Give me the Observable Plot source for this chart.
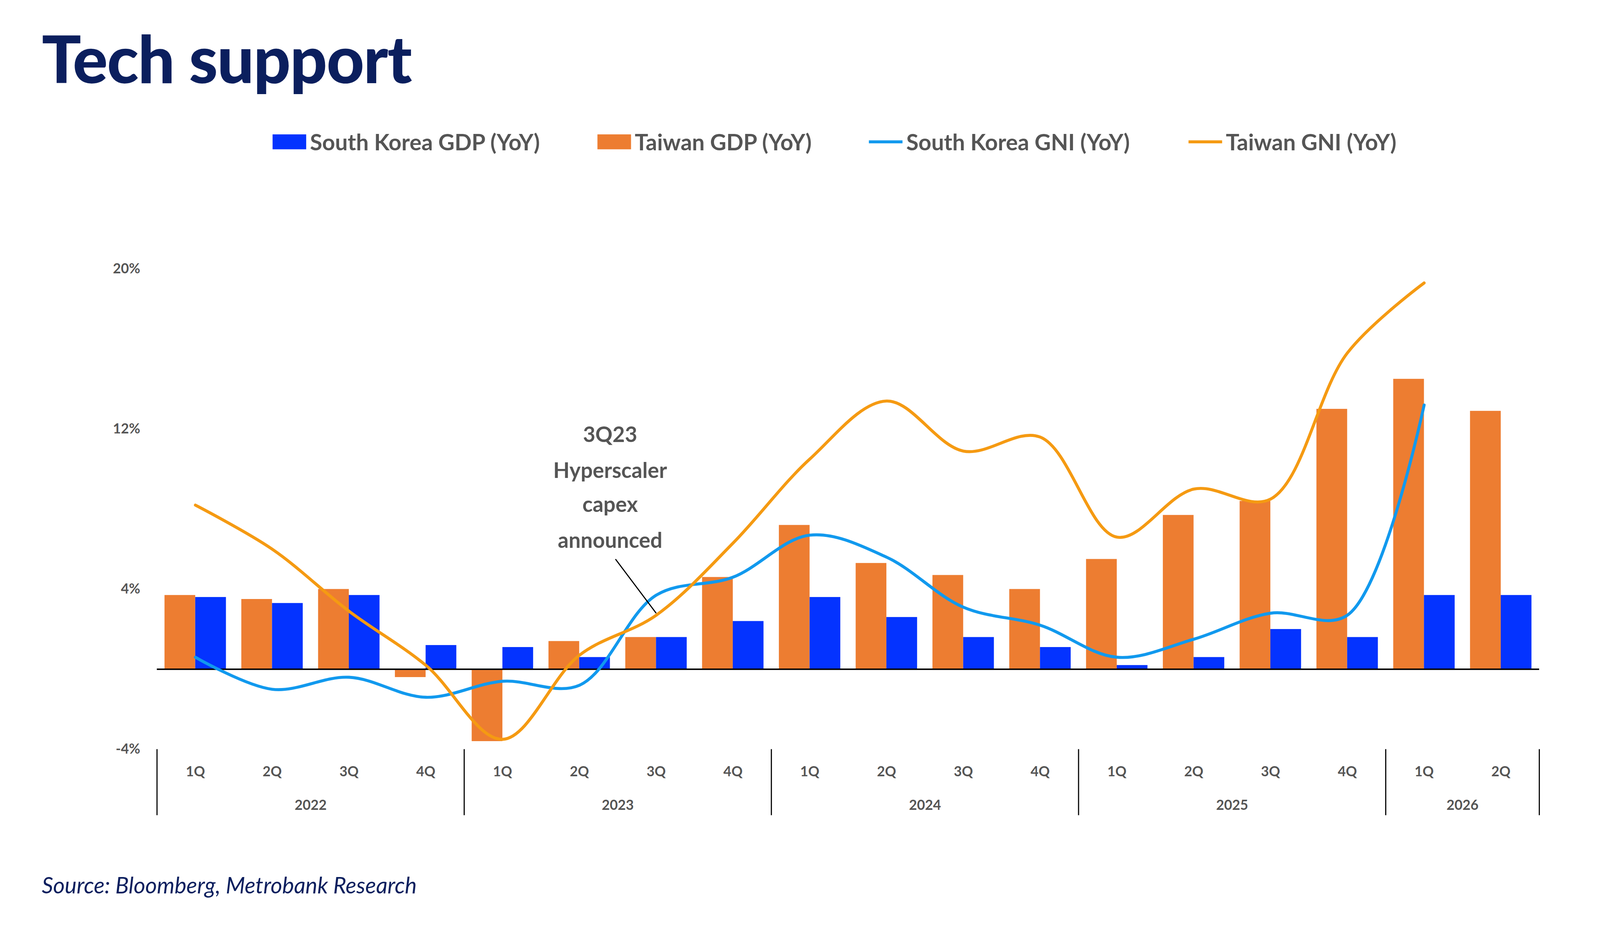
<!DOCTYPE html>
<html><head><meta charset="utf-8">
<script src="https://cdn.jsdelivr.net/npm/d3@7"></script>
<script src="https://cdn.jsdelivr.net/npm/@observablehq/plot@0.6"></script>
<style>
html,body{margin:0;padding:0;background:#fff;overflow:hidden}
#page{width:4285px;height:2438px;position:absolute;left:0;top:0;transform-origin:0 0;font-family:Lato,"Noto Sans",sans-serif}
#title{position:absolute;left:112px;top:50px;font-size:175px;font-weight:900;color:#0b1f5e;letter-spacing:-2px}
#legend{position:absolute;top:340px;left:0;width:4285px;height:80px}
.li{position:absolute;top:0;display:flex;align-items:center;font-size:60px;font-weight:700;color:#555;height:80px}
.sw{display:inline-block;margin-right:10px}
#src{position:absolute;left:112px;top:2335px;font-size:60px;font-style:italic;color:#0b1f5e}
#chart{position:absolute;left:0;top:0;width:4285px;height:2438px}
#chart svg{max-width:none!important}
</style></head><body>
<div id="page">
<div id="chart"></div>
<div id="title">Tech support</div>
<div id="legend"></div>
<div id="src">Source: Bloomberg, Metrobank Research</div>
</div>
<script>
const quarters=["1Q","2Q","3Q","4Q","1Q","2Q","3Q","4Q","1Q","2Q","3Q","4Q","1Q","2Q","3Q","4Q","1Q","2Q"];
const years=["2022","2023","2024","2025","2026"];
const yearCenters=[1.5,5.5,9.5,13.5,16.5];
const twGDP=[3.7,3.5,4.0,-0.4,-3.6,1.4,1.6,4.6,7.2,5.3,4.7,4.0,5.5,7.7,8.4,13.0,14.5,12.9];
const krGDP=[3.6,3.3,3.7,1.2,1.1,0.6,1.6,2.4,3.6,2.6,1.6,1.1,0.2,0.6,2.0,1.6,3.7,3.7];
const krGNI=[0.6,-1.0,-0.4,-1.4,-0.6,-0.8,3.7,4.6,6.7,5.6,3.1,2.2,0.6,1.5,2.8,2.7,13.2];
const twGNI=[8.2,6.0,2.9,0.2,-3.5,0.7,2.7,6.3,10.5,13.4,10.9,11.6,6.6,9.0,8.5,15.8,19.3];
const yTicks=[20,12,4,-4];
const separators=[-0.5,3.5,7.5,11.5,15.5,17.5];
const note=["3Q23","Hyperscaler","capex","announced"];
const noteY=[11.7,9.9,8.2,6.4];

const BLUE="#0433ff",ORANGE="#ed7d31",LBLUE="#1199ee",LORANGE="#f59a12";
const idx=d3.range(quarters.length);
const plot=Plot.plot({
  width:4285,height:2438,marginLeft:420,marginRight:163,marginTop:720,marginBottom:431,
  x:{domain:[-0.5,17.5],axis:null},
  y:{domain:[-4,20],axis:null},
  style:{fontFamily:"Lato, 'Noto Sans', sans-serif",overflow:"visible"},
  marks:[
    Plot.rectY(idx,{x1:i=>i-0.4,x2:i=>i,y1:0,y2:i=>twGDP[i],fill:ORANGE}),
    Plot.rectY(idx,{x1:i=>i,x2:i=>i+0.4,y1:0,y2:i=>krGDP[i],fill:BLUE}),
    Plot.ruleY([0],{x1:-0.5,x2:17.5,stroke:"#000",strokeWidth:4}),
    Plot.line(krGNI.map((v,i)=>({i,v})),{x:"i",y:"v",stroke:LBLUE,strokeWidth:8,curve:"catmull-rom"}),
    Plot.line(twGNI.map((v,i)=>({i,v})),{x:"i",y:"v",stroke:LORANGE,strokeWidth:8,curve:"catmull-rom"}),
    Plot.text(yTicks,{x:-0.5,y:d=>d,text:d=>d+"%",dx:-45,textAnchor:"end",fontSize:37,fontWeight:700,fill:"#555"}),
    Plot.ruleX(separators,{y1:-4,y2:-7.3,stroke:"#000",strokeWidth:3}),
    Plot.text(idx,{x:i=>i,y:-5.13,text:i=>quarters[i],fontSize:37,fontWeight:700,fill:"#555"}),
    Plot.text(years,{x:(d,i)=>yearCenters[i],y:-6.8,text:d=>d,fontSize:37,fontWeight:700,fill:"#555"}),
    Plot.text(note,{x:5.4,y:(d,i)=>noteY[i],text:d=>d,fontSize:57,fontWeight:700,fill:"#555"}),
    Plot.link([0],{x1:5.47,y1:5.5,x2:6.0,y2:2.8,stroke:"#000",strokeWidth:3})
  ]
});
document.getElementById("chart").appendChild(plot);
const items=[
  {t:"South Korea GDP (YoY)",c:BLUE,type:"sq",x:730},
  {t:"Taiwan GDP (YoY)",c:ORANGE,type:"sq",x:1600},
  {t:"South Korea GNI (YoY)",c:LBLUE,type:"ln",x:2327},
  {t:"Taiwan GNI (YoY)",c:LORANGE,type:"ln",x:3183}];
const lg=document.getElementById("legend");
items.forEach(it=>{
  const d=document.createElement("div");d.className="li";d.style.left=it.x+"px";
  const s=document.createElement("span");s.className="sw";
  s.style.background=it.c;s.style.width="90px";s.style.height=it.type=="sq"?"40px":"8px";
  d.appendChild(s);d.appendChild(document.createTextNode(it.t));lg.appendChild(d);
});
function fit(){
  const w=document.documentElement.clientWidth||window.innerWidth, h=document.documentElement.clientHeight||window.innerHeight;
  const k=Math.min(w/4285,h/2438);
  document.getElementById("page").style.transform="scale("+k+")";
}
fit(); window.addEventListener("resize",fit);
</script></body></html>
